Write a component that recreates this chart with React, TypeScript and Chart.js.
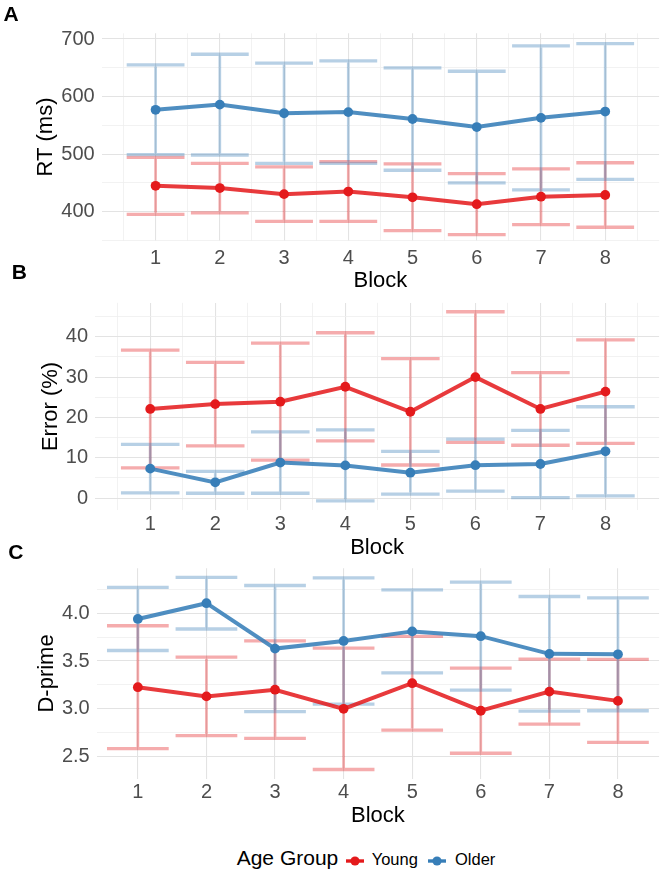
import React, { useEffect, useRef } from 'react';
import { Chart, registerables } from 'chart.js';

Chart.register(...registerables);
Chart.defaults.font.family = '"Liberation Sans", Arial, Helvetica, sans-serif';

// ---------- data ----------
const blocks = [1, 2, 3, 4, 5, 6, 7, 8];

const rtYoung = [445, 441, 430.5, 435, 425, 413, 426, 429];
const rtYoungErr = [49.5, 43, 47.5, 52, 58, 53, 48.5, 56];
const rtOlder = [577, 586, 571, 573, 561, 547, 563, 574];
const rtOlderErr = [78, 87.5, 87, 89, 89, 97, 125, 118];

const errYoung = [22.1, 23.3, 23.9, 27.6, 21.4, 30.0, 22.1, 26.4];
const errYoungErr = [14.6, 10.35, 14.5, 13.4, 13.2, 16.2, 9.0, 12.85];
const errOlder = [7.3, 3.9, 8.8, 8.1, 6.3, 8.15, 8.45, 11.6];
const errOlderErr = [6.0, 2.7, 7.6, 8.8, 5.3, 6.45, 8.35, 11.05];

const dpYoung = [3.226, 3.13, 3.2, 3.0, 3.268, 2.98, 3.18, 3.083];
const dpYoungErr = [0.643, 0.41, 0.51, 0.635, 0.49, 0.445, 0.34, 0.435];
const dpOlder = [3.94, 4.105, 3.63, 3.71, 3.81, 3.76, 3.575, 3.57];
const dpOlderErr = [0.33, 0.27, 0.66, 0.66, 0.435, 0.565, 0.6, 0.59];

const rtTicks = [350, 400, 450, 500, 550, 600, 650, 700];
const rtLabels = [400, 500, 600, 700];
const errTicks = [0, 5, 10, 15, 20, 25, 30, 35, 40, 45];
const errLabels = [0, 10, 20, 30, 40];
const dpTicks = [2.5, 2.75, 3, 3.25, 3.5, 3.75, 4, 4.25];
const dpLabels = [2.5, 3, 3.5, 4];
const blockGridHalf = [0.5, 1, 1.5, 2, 2.5, 3, 3.5, 4, 4.5, 5, 5.5, 6, 6.5, 7, 7.5, 8, 8.5];

const groupNames = ['Young', 'Older'];

// ---------- styles ----------
const RED = '#E41A1C';
const BLUE = '#377EB8';
const RED_ERR = 'rgba(228,26,28,0.36)';
const BLUE_ERR = 'rgba(55,126,184,0.36)';
const RED_LINE = 'rgba(228,26,28,0.86)';
const BLUE_LINE = 'rgba(55,126,184,0.88)';
const GRID_MAJOR = '#E3E3E3';
const GRID_MINOR = '#EFEFEF';

const errorBarPlugin = {
  id: 'errbars',
  beforeDatasetsDraw(chart: any) {
    const { ctx, scales } = chart;
    const x = scales.x;
    const y = scales.y;
    ctx.save();
    chart.data.datasets.forEach((ds: any) => {
      ctx.strokeStyle = ds.errColor;
      ds.data.forEach((p: any, i: number) => {
        const e = ds.err[i];
        const px = x.getPixelForValue(p.x);
        const xl = x.getPixelForValue(p.x - 0.45);
        const xr = x.getPixelForValue(p.x + 0.45);
        const yt = y.getPixelForValue(p.y + e);
        const yb = y.getPixelForValue(p.y - e);
        ctx.lineWidth = 3.3;
        ctx.beginPath();
        ctx.moveTo(xl, yt);
        ctx.lineTo(xr, yt);
        ctx.moveTo(xl, yb);
        ctx.lineTo(xr, yb);
        ctx.stroke();
        ctx.lineWidth = 2.7;
        ctx.beginPath();
        ctx.moveTo(px, yt + 1.65);
        ctx.lineTo(px, yb - 1.65);
        ctx.stroke();
      });
    });
    ctx.restore();
  },
};

type PanelCfg = {
  top: number; h: number; plotLeft: number; padTop: number; padRight: number;
  xMin: number; xMax: number; yMin: number; yMax: number;
  xH: number; xTickPad: number; xTitlePad: number; yTitlePad: number;
  yTitle: string; yTicks: number[]; yLabels: number[]; yFmt: (v: number) => string;
  xGrid: number[];
  young: number[]; youngErr: number[]; older: number[]; olderErr: number[];
};

const panels: PanelCfg[] = [
  {
    top: 0, h: 298, plotLeft: 101.7, padTop: 33.3, padRight: 3.3,
    xMin: 0.161, xMax: 8.839, yMin: 349.6, yMax: 709.9,
    xH: 57.3, xTickPad: 6.2, xTitlePad: 3.5, yTitlePad: 32.3,
    yTitle: 'RT (ms)', yTicks: rtTicks, yLabels: rtLabels, yFmt: (v) => String(v),
    xGrid: blockGridHalf,
    young: rtYoung, youngErr: rtYoungErr, older: rtOlder, olderErr: rtOlderErr,
  },
  {
    top: 298, h: 264, plotLeft: 95, padTop: 3.7, padRight: 0,
    xMin: 0.151, xMax: 8.825, yMin: -2.96, yMax: 48.4,
    xH: 52, xTickPad: 2.5, xTitlePad: 0.5, yTitlePad: 37.6,
    yTitle: 'Error (%)', yTicks: errTicks, yLabels: errLabels, yFmt: (v) => String(v),
    xGrid: blockGridHalf,
    young: errYoung, youngErr: errYoungErr, older: errOlder, olderErr: errOlderErr,
  },
  {
    top: 562, h: 270, plotLeft: 96.7, padTop: 6.3, padRight: 2,
    xMin: 0.4, xMax: 8.6, yMin: 2.27, yMax: 4.47,
    xH: 53.4, xTickPad: 1.6, xTitlePad: 3.3, yTitlePad: 33.5,
    yTitle: 'D-prime', yTicks: dpTicks, yLabels: dpLabels, yFmt: (v) => v.toFixed(1),
    xGrid: blocks,
    young: dpYoung, youngErr: dpYoungErr, older: dpOlder, olderErr: dpOlderErr,
  },
];

function zeroPad(s: any) {
  s.paddingTop = 0;
  s.paddingBottom = 0;
  s.paddingLeft = 0;
  s.paddingRight = 0;
}

function Panel({ cfg }: { cfg: PanelCfg }) {
  const ref = useRef<HTMLCanvasElement>(null);
  useEffect(() => {
    const mk = (vals: number[]) => blocks.map((b, i) => ({ x: b, y: vals[i] }));
    const chart = new Chart(ref.current as HTMLCanvasElement, {
      type: 'line',
      data: {
        datasets: [
          {
            label: groupNames[0], data: mk(cfg.young), err: cfg.youngErr, errColor: RED_ERR,
            borderColor: RED_LINE, backgroundColor: RED, pointBackgroundColor: RED,
            borderWidth: 4, pointRadius: 4.9, pointBorderWidth: 0, tension: 0,
          } as any,
          {
            label: groupNames[1], data: mk(cfg.older), err: cfg.olderErr, errColor: BLUE_ERR,
            borderColor: BLUE_LINE, backgroundColor: BLUE, pointBackgroundColor: BLUE,
            borderWidth: 4, pointRadius: 4.9, pointBorderWidth: 0, tension: 0,
          } as any,
        ],
      },
      options: {
        animation: false,
        responsive: false,
        maintainAspectRatio: false,
        layout: { padding: { top: cfg.padTop, right: cfg.padRight, left: 0, bottom: 0 } },
        plugins: { legend: { display: false }, tooltip: { enabled: false } },
        scales: {
          x: {
            type: 'linear',
            min: cfg.xMin,
            max: cfg.xMax,
            afterBuildTicks: (s: any) => { s.ticks = cfg.xGrid.map((v) => ({ value: v })); },
            afterFit: (s: any) => { s.height = cfg.xH; zeroPad(s); },
            ticks: {
              autoSkip: false, maxRotation: 0, minRotation: 0, padding: cfg.xTickPad,
              color: '#4D4D4D', font: { size: 20 },
              callback: (v: any) => (Number.isInteger(v) ? String(v) : ''),
            },
            grid: {
              drawTicks: false,
              color: (c: any) => (Number.isInteger(c.tick.value) ? GRID_MAJOR : GRID_MINOR),
              lineWidth: (c: any) => (Number.isInteger(c.tick.value) ? 1.1 : 0.8),
            },
            border: { display: false },
            title: {
              display: true, text: 'Block', color: '#000', font: { size: 22 },
              padding: { top: 0, bottom: cfg.xTitlePad },
            },
          },
          y: {
            type: 'linear',
            min: cfg.yMin,
            max: cfg.yMax,
            afterBuildTicks: (s: any) => { s.ticks = cfg.yTicks.map((v) => ({ value: v })); },
            afterFit: (s: any) => { s.width = cfg.plotLeft; zeroPad(s); },
            ticks: {
              autoSkip: false, padding: 7, color: '#4D4D4D', font: { size: 20 },
              callback: (v: any) => (cfg.yLabels.includes(v) ? cfg.yFmt(v) : ''),
            },
            grid: {
              drawTicks: false,
              color: (c: any) => (cfg.yLabels.includes(c.tick.value) ? GRID_MAJOR : GRID_MINOR),
              lineWidth: (c: any) => (cfg.yLabels.includes(c.tick.value) ? 1.1 : 0.8),
            },
            border: { display: false },
            title: {
              display: true, text: cfg.yTitle, color: '#000', font: { size: 22 },
              padding: { top: cfg.yTitlePad, bottom: 0 },
            },
          },
        },
      } as any,
      plugins: [errorBarPlugin],
    });
    return () => chart.destroy();
  }, []);
  return (
    <canvas
      ref={ref}
      width={664}
      height={cfg.h}
      style={{ position: 'absolute', left: 0, top: cfg.top, width: 664, height: cfg.h, display: 'block' }}
    />
  );
}

const FONT = '"Liberation Sans", Arial, Helvetica, sans-serif';

function Label({ text, left, top }: { text: string; left: number; top: number }) {
  return (
    <div style={{ position: 'absolute', left, top, fontFamily: FONT, fontWeight: 'bold', fontSize: 21, lineHeight: '21px', color: '#000' }}>
      {text}
    </div>
  );
}

function Key({ color, left, top }: { color: string; left: number; top: number }) {
  return (
    <svg width={18} height={12} style={{ position: 'absolute', left, top }}>
      <line x1={0} y1={6} x2={18} y2={6} stroke={color} strokeWidth={3.4} />
      <circle cx={9} cy={6} r={4.6} fill={color} />
    </svg>
  );
}

export default function App() {
  return (
    <div style={{ position: 'absolute', left: 0, top: 0, width: 664, height: 875, background: '#fff', overflow: 'hidden' }}>
      {panels.map((p, i) => <Panel key={i} cfg={p} />)}
      <Label text="A" left={3.4} top={2.6} />
      <Label text="B" left={11.7} top={260.6} />
      <Label text="C" left={8.3} top={540.6} />
      <div style={{ position: 'absolute', left: 236.7, top: 847.4, fontFamily: FONT, fontSize: 21, lineHeight: '21px', color: '#000', whiteSpace: 'nowrap' }}>Age Group</div>
      <Key color={RED} left={346} top={855} />
      <div style={{ position: 'absolute', left: 371.7, top: 851.3, fontFamily: FONT, fontSize: 16.5, lineHeight: '16.5px', color: '#000', whiteSpace: 'nowrap' }}>{groupNames[0]}</div>
      <Key color={BLUE} left={428.3} top={855} />
      <div style={{ position: 'absolute', left: 455, top: 851.3, fontFamily: FONT, fontSize: 16.5, lineHeight: '16.5px', color: '#000', whiteSpace: 'nowrap' }}>{groupNames[1]}</div>
    </div>
  );
}
